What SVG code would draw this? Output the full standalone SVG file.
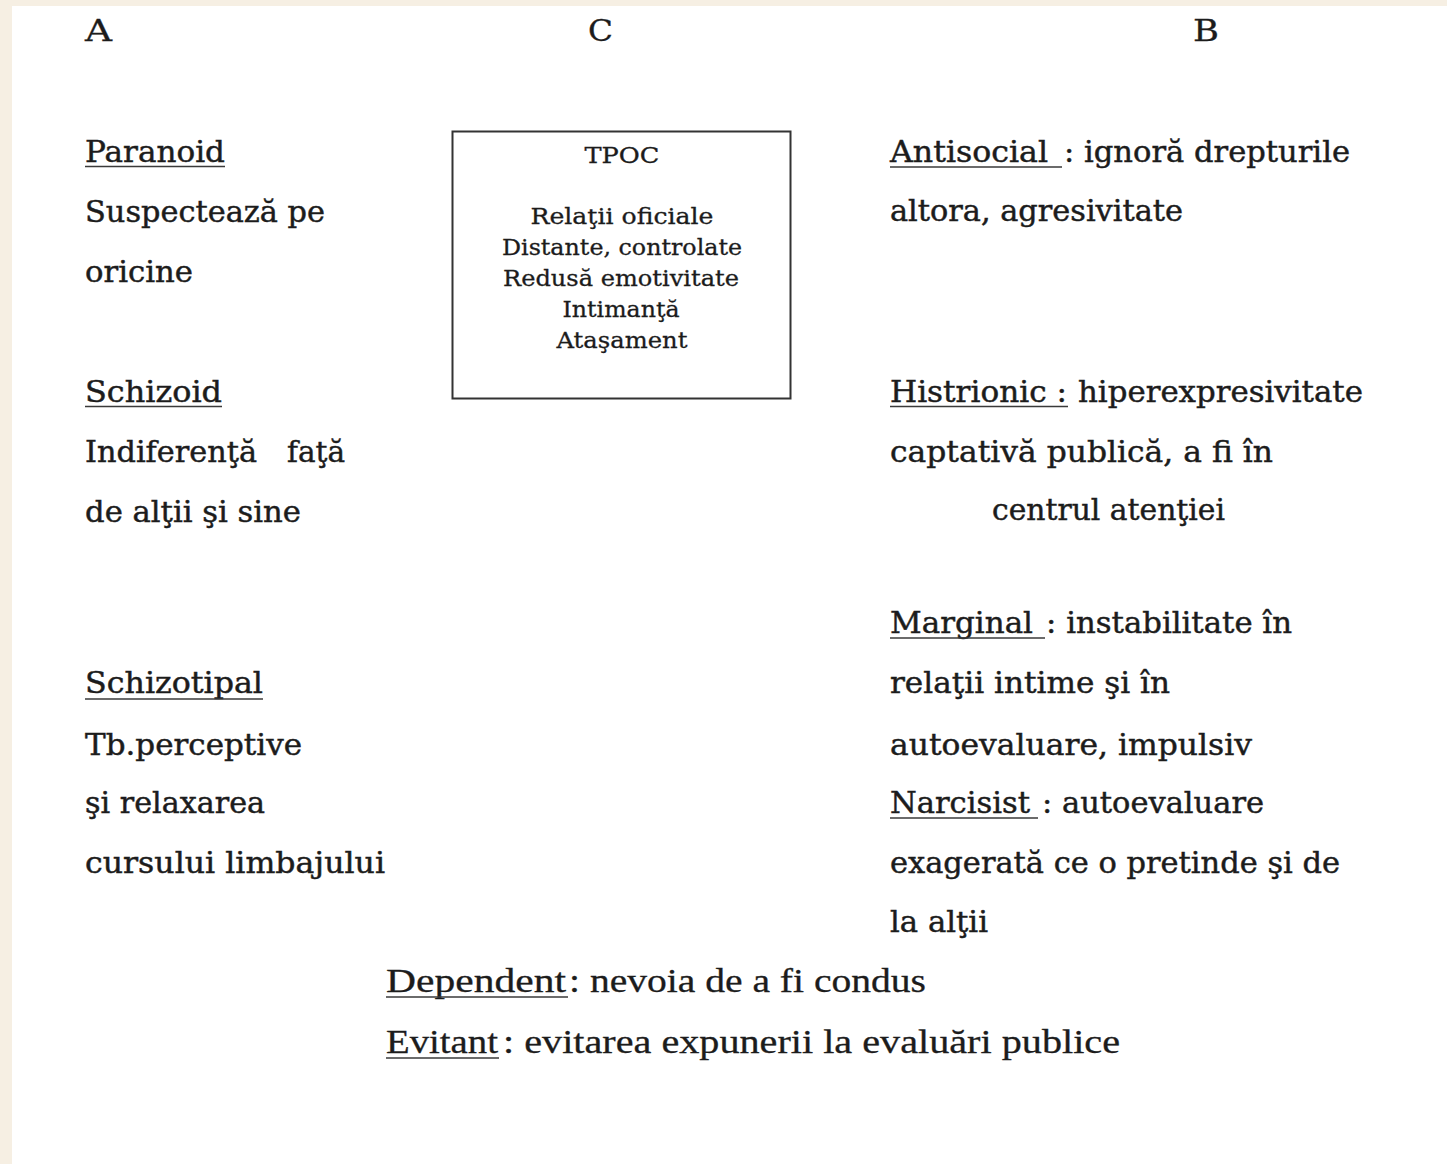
<svg xmlns="http://www.w3.org/2000/svg" width="1447" height="1164" viewBox="0 0 1447 1164">
<style>
.t{font-family:"DejaVu Serif","Liberation Serif",serif;font-size:29px;fill:#1c1c1c;stroke:#1c1c1c;stroke-width:0.45}
.n{font-family:"Liberation Serif","Times New Roman",serif;font-size:34px;fill:#1c1c1c;stroke:#1c1c1c;stroke-width:0.3}
.h{font-family:"DejaVu Serif","Liberation Serif",serif;font-size:29px;fill:#1c1c1c;stroke:#1c1c1c;stroke-width:0.3}
.b{font-family:"DejaVu Serif","Liberation Serif",serif;font-size:22px;fill:#1c1c1c;stroke:#1c1c1c;stroke-width:0.3;text-anchor:middle}
.u{stroke:#3a3a3a;stroke-width:1.6}
</style>
<rect x="0" y="0" width="1447" height="1164" fill="#f6efe3"/>
<rect x="12" y="6" width="1435" height="1158" fill="#ffffff"/>
<g id="headers">
<text class="h" x="85" y="41" textLength="27" lengthAdjust="spacingAndGlyphs">A</text>
<text class="h" x="588" y="41" textLength="25" lengthAdjust="spacingAndGlyphs">C</text>
<text class="h" x="1193" y="41" textLength="26" lengthAdjust="spacingAndGlyphs">B</text>
</g>
<g id="paranoid">
<text class="t" x="85" y="162" textLength="140" lengthAdjust="spacingAndGlyphs">Paranoid</text>
<line class="u" x1="85" y1="166.5" x2="225" y2="166.5"/>
<text class="t" x="85" y="222" textLength="240" lengthAdjust="spacingAndGlyphs">Suspectează pe</text>
<text class="t" x="85" y="282" textLength="108" lengthAdjust="spacingAndGlyphs">oricine</text>
</g>
<g id="schizoid">
<text class="t" x="85" y="402" textLength="137" lengthAdjust="spacingAndGlyphs">Schizoid</text>
<line class="u" x1="85" y1="406.5" x2="222" y2="406.5"/>
<text class="t" x="85" y="462" textLength="172" lengthAdjust="spacingAndGlyphs">Indiferenţă</text>
<text class="t" x="287" y="462" textLength="58" lengthAdjust="spacingAndGlyphs">faţă</text>
<text class="t" x="85" y="522" textLength="216" lengthAdjust="spacingAndGlyphs">de alţii şi sine</text>
</g>
<g id="schizotipal">
<text class="t" x="85" y="693" textLength="178" lengthAdjust="spacingAndGlyphs">Schizotipal</text>
<line class="u" x1="85" y1="699" x2="263" y2="699"/>
<text class="t" x="85" y="755" textLength="217" lengthAdjust="spacingAndGlyphs">Tb.perceptive</text>
<text class="t" x="85" y="813" textLength="180" lengthAdjust="spacingAndGlyphs">şi relaxarea</text>
<text class="t" x="85" y="873" textLength="300" lengthAdjust="spacingAndGlyphs">cursului limbajului</text>
</g>
<g id="tpoc">
<rect x="452.5" y="131.5" width="338" height="267" fill="none" stroke="#333" stroke-width="2"/>
<text class="b" x="622" y="163" textLength="75" lengthAdjust="spacingAndGlyphs">TPOC</text>
<text class="b" x="622" y="224" textLength="183" lengthAdjust="spacingAndGlyphs">Relaţii oficiale</text>
<text class="b" x="622" y="255" textLength="240" lengthAdjust="spacingAndGlyphs">Distante, controlate</text>
<text class="b" x="621" y="286" textLength="236" lengthAdjust="spacingAndGlyphs">Redusă emotivitate</text>
<text class="b" x="621" y="317" textLength="117" lengthAdjust="spacingAndGlyphs">Intimanţă</text>
<text class="b" x="622" y="348" textLength="131" lengthAdjust="spacingAndGlyphs">Ataşament</text>
</g>
<g id="antisocial">
<text class="t" x="890" y="162" textLength="158" lengthAdjust="spacingAndGlyphs">Antisocial</text>
<line class="u" x1="890" y1="167" x2="1062" y2="167"/>
<text class="t" x="1064" y="162" textLength="286" lengthAdjust="spacingAndGlyphs">: ignoră drepturile</text>
<text class="t" x="890" y="221" textLength="293" lengthAdjust="spacingAndGlyphs">altora, agresivitate</text>
</g>
<g id="histrionic">
<text class="t" x="890" y="402" textLength="177" lengthAdjust="spacingAndGlyphs">Histrionic :</text>
<line class="u" x1="890" y1="406.5" x2="1068" y2="406.5"/>
<text class="t" x="1078" y="402" textLength="285" lengthAdjust="spacingAndGlyphs">hiperexpresivitate</text>
<text class="t" x="890" y="462" textLength="383" lengthAdjust="spacingAndGlyphs">captativă publică, a fi în</text>
<text class="t" x="992" y="520" textLength="233" lengthAdjust="spacingAndGlyphs">centrul atenţiei</text>
</g>
<g id="marginal">
<text class="t" x="890" y="633" textLength="143" lengthAdjust="spacingAndGlyphs">Marginal</text>
<line class="u" x1="890" y1="638" x2="1045" y2="638"/>
<text class="t" x="1046" y="633" textLength="246" lengthAdjust="spacingAndGlyphs">: instabilitate în</text>
<text class="t" x="890" y="693" textLength="280" lengthAdjust="spacingAndGlyphs">relaţii intime şi în</text>
<text class="t" x="890" y="755" textLength="362" lengthAdjust="spacingAndGlyphs">autoevaluare, impulsiv</text>
</g>
<g id="narcisist">
<text class="t" x="890" y="813" textLength="140" lengthAdjust="spacingAndGlyphs">Narcisist</text>
<line class="u" x1="890" y1="818" x2="1038" y2="818"/>
<text class="t" x="1042" y="813" textLength="222" lengthAdjust="spacingAndGlyphs">: autoevaluare</text>
<text class="t" x="890" y="873" textLength="450" lengthAdjust="spacingAndGlyphs">exagerată ce o pretinde şi de</text>
<text class="t" x="890" y="932" textLength="98" lengthAdjust="spacingAndGlyphs">la alţii</text>
</g>
<g id="dependent">
<text class="n" x="386" y="992" textLength="180" lengthAdjust="spacingAndGlyphs">Dependent</text>
<line class="u" x1="386" y1="997" x2="568" y2="997"/>
<text class="n" x="569" y="992" textLength="357" lengthAdjust="spacingAndGlyphs">: nevoia de a fi condus</text>
</g>
<g id="evitant">
<text class="n" x="386" y="1053" textLength="112" lengthAdjust="spacingAndGlyphs">Evitant</text>
<line class="u" x1="386" y1="1058" x2="499" y2="1058"/>
<text class="n" x="503" y="1053" textLength="617" lengthAdjust="spacingAndGlyphs">: evitarea expunerii la evaluări publice</text>
</g>
<g id="connectors"/>
</svg>
